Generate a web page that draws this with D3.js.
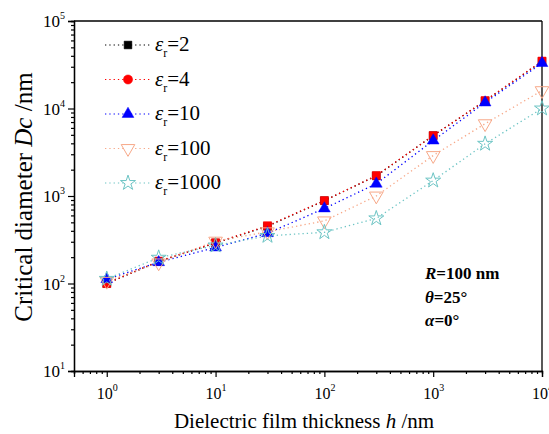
<!DOCTYPE html>
<html>
<head>
<meta charset="utf-8">
<script src="https://cdn.jsdelivr.net/npm/d3@7/dist/d3.min.js"></script>
<style>
  body { margin: 0; background: #fff; }
  text { font-family: "Liberation Serif", "DejaVu Serif", serif; fill: #000; }
</style>
</head>
<body>
<div id="chart"></div>
<script>
// film thickness h (nm)
const thickness = [1, 3, 10, 30, 100, 300, 1000, 3000, 10000];
// critical diameter Dc (nm) for each relative permittivity
const er2 = [100, 178, 290, 450, 885, 1700, 4900, 12200, 34500];
const er4 = [100, 180, 292, 457, 885, 1710, 4900, 12300, 34800];
const er10 = [112, 175, 258, 375, 720, 1380, 4300, 11700, 33000];
const er100 = [106, 172, 305, 390, 520, 1000, 2900, 6700, 16000];
const er1000 = [113, 197, 272, 350, 385, 555, 1500, 3950, 10000];

const seriesNames = ['2', '4', '10', '100', '1000'];
const xMajor = [1, 10, 100, 1000, 10000];
const yMajor = [10, 100, 1000, 10000, 100000];

const W = 549, H = 434;
const margin = { top: 21, right: 7, bottom: 63, left: 74 };
const width = W - margin.left - margin.right,
    height = H - margin.top - margin.bottom;

let svg = d3.select('#chart').append('svg')
    .attr('width', W).attr('height', H);

let main = svg.append('g')
    .attr('transform', 'translate(' + margin.left + ',' + margin.top + ')');

let x = d3.scaleLog().domain([0.5, 10000]).range([0, width]);
let y = d3.scaleLog().domain([10, 100000]).range([height, 0]);

// minor ticks
let xMinor = [], yMinor = [];
for (let e = -1; e < 4; e++)
    for (let k = 2; k < 10; k++) {
        let v = k * Math.pow(10, e);
        if (v >= 0.5 && v < 10000) xMinor.push(v);
    }
for (let e = 1; e < 5; e++)
    for (let k = 2; k < 10; k++) yMinor.push(k * Math.pow(10, e));

function styleAxis(g) {
    g.select('.domain').attr('stroke', '#000').attr('stroke-width', 1.3);
    g.selectAll('.tick line').attr('stroke', '#000').attr('stroke-width', 1.2);
}

main.append('g').attr('transform', 'translate(0,' + height + ')')
    .call(d3.axisBottom(x).tickValues(xMinor).tickSize(3).tickFormat(''))
    .call(styleAxis);
main.append('g').attr('transform', 'translate(0,' + height + ')')
    .call(d3.axisBottom(x).tickValues(xMajor).tickSize(6).tickFormat(''))
    .call(styleAxis);
main.append('g')
    .call(d3.axisLeft(y).tickValues(yMinor).tickSize(3).tickFormat(''))
    .call(styleAxis);
main.append('g')
    .call(d3.axisLeft(y).tickValues(yMajor).tickSize(6).tickFormat(''))
    .call(styleAxis);

// top and right frame
main.append('line').attr('x1', 0).attr('x2', width).attr('y1', 0).attr('y2', 0)
    .attr('stroke', '#000').attr('stroke-width', 1.3);
main.append('line').attr('x1', width).attr('x2', width).attr('y1', 0).attr('y2', height)
    .attr('stroke', '#000').attr('stroke-width', 1.3);

// tick labels 10^n
xMajor.forEach(function (v) {
    let t = main.append('text')
        .attr('x', x(v) - 10).attr('y', height + 28)
        .attr('font-size', 16);
    t.append('tspan').text('10');
    t.append('tspan').attr('dy', -8).attr('font-size', 10).text(Math.round(Math.log10(v)));
});
yMajor.forEach(function (v) {
    let t = main.append('text')
        .attr('x', -31).attr('y', y(v) + 6)
        .attr('font-size', 17);
    t.append('tspan').text('10');
    t.append('tspan').attr('dy', -8).attr('font-size', 10).text(Math.round(Math.log10(v)));
});

// axis titles
let xt = svg.append('text')
    .attr('x', 304).attr('y', 428)
    .attr('text-anchor', 'middle').attr('font-size', 21);
xt.append('tspan').text('Dielectric film thickness ');
xt.append('tspan').attr('font-style', 'italic').text('h');
xt.append('tspan').text(' /nm');

let yt = svg.append('text')
    .attr('transform', 'translate(32,197) rotate(-90)')
    .attr('text-anchor', 'middle').attr('font-size', 25);
yt.append('tspan').text('Critical diameter ');
yt.append('tspan').attr('font-style', 'italic').text('Dc');
yt.append('tspan').text(' /nm');

// series
const series = [
    { name: seriesNames[0], values: er2, color: '#000000', fill: '#000000', symbol: d3.symbolSquare, plot: d3.symbolSquare, size: 60, rot: 0 },
    { name: seriesNames[1], values: er4, color: '#ff0000', fill: '#ff0000', symbol: d3.symbolCircle, plot: d3.symbolSquare, size: 66, rot: 0 },
    { name: seriesNames[2], values: er10, color: '#0000ff', fill: '#0000ff', symbol: d3.symbolTriangle, plot: d3.symbolTriangle, size: 60, rot: 0 },
    { name: seriesNames[3], values: er100, color: '#f7a888', fill: 'none', symbol: d3.symbolTriangle, plot: d3.symbolTriangle, size: 80, rot: 180 },
    { name: seriesNames[4], values: er1000, color: '#6cc4c4', fill: 'none', symbol: d3.symbolStar, plot: d3.symbolStar, size: 70, rot: 0 }
];

let line = d3.line()
    .x(function (d) { return x(d[0]); })
    .y(function (d) { return y(d[1]); });

series.forEach(function (s) {
    let pts = thickness.map(function (h, i) { return [h, s.values[i]]; });
    main.append('path').datum(pts)
        .attr('d', line)
        .attr('fill', 'none')
        .attr('stroke', s.color)
        .attr('stroke-width', 1.3)
        .attr('stroke-dasharray', '1.3,3');
});

series.forEach(function (s) {
    let pts = thickness.map(function (h, i) { return [h, s.values[i]]; });
    main.append('g').selectAll('path').data(pts).enter().append('path')
        .attr('d', d3.symbol().type(s.plot).size(s.size))
        .attr('transform', function (d) {
            return 'translate(' + x(d[0]) + ',' + y(d[1]) + ') rotate(' + s.rot + ')';
        })
        .attr('fill', s.fill)
        .attr('stroke', s.color)
        .attr('stroke-width', s.fill === 'none' ? 1 : 0.5);
});

// legend
let legend = svg.append('g');
series.forEach(function (s, i) {
    let ly = 45 + i * 34.5;
    legend.append('line')
        .attr('x1', 105).attr('x2', 150).attr('y1', ly).attr('y2', ly)
        .attr('stroke', s.color).attr('stroke-width', 1.2)
        .attr('stroke-dasharray', '1.3,3');
    legend.append('path')
        .attr('d', d3.symbol().type(s.symbol).size(s.size))
        .attr('transform', 'translate(128,' + ly + ') rotate(' + s.rot + ')')
        .attr('fill', s.fill === 'none' ? '#fff' : s.fill)
        .attr('stroke', s.color).attr('stroke-width', s.fill === 'none' ? 1 : 0.5);
    let t = legend.append('text').attr('x', 155).attr('y', ly + 6).attr('font-size', 21);
    t.append('tspan').attr('font-style', 'italic').text('\u03b5');
    t.append('tspan').attr('dy', 6).attr('font-size', 12).text('r');
    t.append('tspan').attr('dy', -6).text('=' + s.name);
});

// annotation
let ann = svg.append('g').attr('font-weight', 'bold');
let a1 = ann.append('text').attr('x', 425).attr('y', 279).attr('font-size', 17);
a1.append('tspan').attr('font-style', 'italic').text('R');
a1.append('tspan').text('=100 nm');
let a2 = ann.append('text').attr('x', 425).attr('y', 303).attr('font-size', 17);
a2.append('tspan').attr('font-style', 'italic').text('\u03b8');
a2.append('tspan').text('=25\u00b0');
let a3 = ann.append('text').attr('x', 425).attr('y', 326).attr('font-size', 17);
a3.append('tspan').attr('font-style', 'italic').text('\u03b1');
a3.append('tspan').text('=0\u00b0');
</script>
</body>
</html>
